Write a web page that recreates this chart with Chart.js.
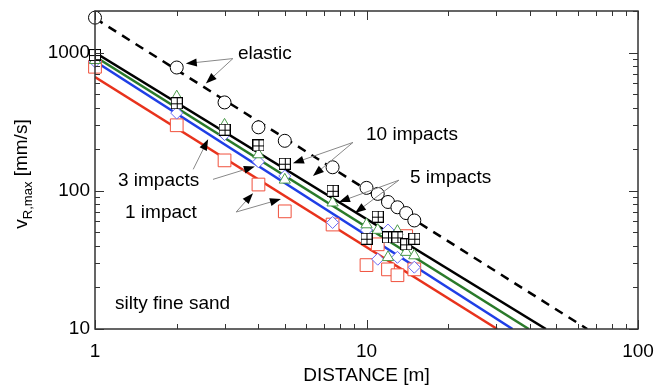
<!DOCTYPE html>
<html><head><meta charset="utf-8">
<script src="https://cdn.jsdelivr.net/npm/chart.js@4/dist/chart.umd.min.js"></script>
<style>html,body{margin:0;padding:0;background:#fff;}#wrap{width:657px;height:387px;}</style>
</head><body><div id="wrap"><canvas id="c" width="657" height="387"></canvas></div>
<script>
// ---- data ----
const distances = [1, 2, 3, 4, 5, 7.5, 10, 11, 12, 13, 14, 15];
const elasticV   = [1790, 780, 436, 288, 230, 148, 105, 95, 83, 76, 69, 61];
const impacts10V = [960, 430, 277, 213, 157, 100, 45, 65, 46, 46, 41, 45];
const impacts5V  = [880, 480, 300, 183, 120, 82, 57, 52, 33, 51, 36, 34];
const distances3 = [1, 2, 3, 4, 5, 7.5, 10, 11, 12, 13, 15];
const impacts3V  = [860, 365, 255, 162, 128, 59, 52, 32, 52, 33, 28];
const impacts1V  = [790, 298, 166, 111, 71, 57, 29, 41, 27, 24.5, 47, 27];

// regression lines (end points)
const fitElasticX = [1, 65];   const fitElasticV = [1770, 10];
const fit10X = [1, 45.8];      const fit10V = [1000, 10];
const fit5X  = [1, 39.6];      const fit5V  = [935, 10];
const fit3X  = [1, 34.5];      const fit3V  = [865, 10];
const fit1X  = [1, 30.3];      const fit1V  = [666, 10];

const xTicks = [1,2,3,4,5,6,7,8,9,10,20,30,40,50,60,70,80,90,100];
const yTicks = [10,20,30,40,50,60,70,80,90,100,200,300,400,500,600,700,800,900,1000,2000];
const xMajor = [1, 10, 100];
const yMajor = [10, 100, 1000];

const labelTexts = ['elastic', '10 impacts', '5 impacts', '3 impacts', '1 impact', 'silty fine sand'];
const labelX = [3.36, 9.96, 14.46, 1.215, 1.29, 1.185];
const labelY = [983, 256, 123.5, 117.5, 69, 15.2];
// arrows: [fromX, fromY, toX, toY]
const arrows = [
  [3.22, 905, 2.16, 833], [3.22, 905, 2.56, 598],
  [8.92, 224, 5.36, 158], [8.92, 224, 6.35, 128],
  [13.17, 119.4, 7.92, 82.9], [13.17, 119.4, 9.07, 69],
  [2.30, 143, 2.61, 236], [2.72, 121, 3.88, 150],
  [3.31, 70.2, 3.82, 96.2], [3.31, 70.2, 4.84, 87.1]
];

const zip = (xs, ys) => xs.map((x, i) => ({x, y: ys[i]}));
const FONT = '"Liberation Sans", Arial, sans-serif';

function crossSquare(size) {
  const c = document.createElement('canvas');
  c.width = size; c.height = size;
  const g = c.getContext('2d');
  g.fillStyle = '#fff'; g.fillRect(0.5, 0.5, size - 1, size - 1);
  g.strokeStyle = '#000'; g.lineWidth = 1;
  g.strokeRect(0.5, 0.5, size - 1, size - 1);
  const m = Math.floor(size / 2) + 0.5;
  g.beginPath(); g.moveTo(m, 0.5); g.lineTo(m, size - 0.5);
  g.moveTo(0.5, m); g.lineTo(size - 0.5, m); g.stroke();
  return c;
}

const lineDs = (xs, ys, color, dash, order) => ({
  data: zip(xs, ys), showLine: true, pointRadius: 0, borderColor: color,
  borderWidth: 2.5, borderDash: dash || [], order: order, fill: false
});
const markDs = (xs, ys, style, r, color, order) => ({
  data: zip(xs, ys), showLine: false, pointStyle: style, pointRadius: r,
  pointBorderColor: color, pointBackgroundColor: '#fff', pointBorderWidth: 1,
  order: order, clip: false
});

const framePlugin = {
  id: 'frame',
  afterDatasetsDraw(chart) {
    const {ctx, chartArea: a, scales: {x, y}} = chart;
    ctx.save();
    ctx.strokeStyle = '#333'; ctx.lineWidth = 1.5;
    ctx.strokeRect(a.left, a.top, a.right - a.left, a.bottom - a.top);
    ctx.lineWidth = 1;
    ctx.beginPath();
    xTicks.forEach(v => {
      const px = Math.round(x.getPixelForValue(v)) + 0.5;
      const L = xMajor.includes(v) ? 9 : 5;
      ctx.moveTo(px, a.bottom); ctx.lineTo(px, a.bottom - L);
      ctx.moveTo(px, a.top); ctx.lineTo(px, a.top + L);
    });
    yTicks.forEach(v => {
      const py = Math.round(y.getPixelForValue(v)) + 0.5;
      const L = yMajor.includes(v) ? 9 : 5;
      ctx.moveTo(a.left, py); ctx.lineTo(a.left + L, py);
      ctx.moveTo(a.right, py); ctx.lineTo(a.right - L, py);
    });
    ctx.stroke();

    // annotations
    ctx.fillStyle = '#000';
    ctx.font = '19px ' + FONT;
    ctx.textAlign = 'left'; ctx.textBaseline = 'middle';
    labelTexts.forEach((t, i) => {
      ctx.fillText(t, x.getPixelForValue(labelX[i]), y.getPixelForValue(labelY[i]));
    });
    arrows.forEach(([fx, fy, tx, ty]) => {
      const x0 = x.getPixelForValue(fx), y0 = y.getPixelForValue(fy);
      const x1 = x.getPixelForValue(tx), y1 = y.getPixelForValue(ty);
      const ang = Math.atan2(y1 - y0, x1 - x0);
      const len = 11, hw = 4;
      ctx.strokeStyle = '#888'; ctx.lineWidth = 1;
      ctx.beginPath(); ctx.moveTo(x0, y0);
      ctx.lineTo(x1 - Math.cos(ang) * len * 0.8, y1 - Math.sin(ang) * len * 0.8); ctx.stroke();
      ctx.fillStyle = '#000';
      ctx.beginPath();
      ctx.moveTo(x1, y1);
      ctx.lineTo(x1 - Math.cos(ang) * len - Math.sin(ang) * hw, y1 - Math.sin(ang) * len + Math.cos(ang) * hw);
      ctx.lineTo(x1 - Math.cos(ang) * len + Math.sin(ang) * hw, y1 - Math.sin(ang) * len - Math.cos(ang) * hw);
      ctx.closePath(); ctx.fill();
    });

    // y axis title with subscript
    const cy = (a.top + a.bottom) / 2 + 4;
    ctx.save();
    ctx.translate(27, cy);
    ctx.rotate(-Math.PI / 2);
    ctx.textBaseline = 'alphabetic'; ctx.textAlign = 'left';
    const big = '19px ' + FONT, small = '13px ' + FONT;
    ctx.font = big; const w1 = ctx.measureText('v').width;
    ctx.font = small; const w2 = ctx.measureText('R,max').width;
    ctx.font = big; const w3 = ctx.measureText(' [mm/s]').width;
    let sx = -(w1 + w2 + w3) / 2;
    ctx.font = big; ctx.fillText('v', sx, 0); sx += w1;
    ctx.font = small; ctx.fillText('R,max', sx, 5); sx += w2;
    ctx.font = big; ctx.fillText(' [mm/s]', sx, 0);
    ctx.restore();
    ctx.restore();
  }
};

new Chart(document.getElementById('c'), {
  type: 'scatter',
  data: {
    datasets: [
      lineDs(fitElasticX, fitElasticV, '#000', [9, 7], 20),
      lineDs(fit10X, fit10V, '#000', null, 21),
      lineDs(fit5X, fit5V, '#2a7a2a', null, 22),
      lineDs(fit3X, fit3V, '#1f3fe6', null, 23),
      lineDs(fit1X, fit1V, '#e8321c', null, 24),
      markDs(distances, impacts1V, 'rect', 9, '#f0503c', 6),
      markDs(distances3, impacts3V, 'rectRot', 6, '#6a6af5', 5),
      markDs(distances, impacts5V, 'triangle', 6.5, '#4a9a4a', 4),
      markDs(distances, impacts10V, crossSquare(12), 6, '#000', 2),
      markDs(distances, elasticV, 'circle', 6.5, '#000', 1)
    ]
  },
  options: {
    responsive: false, animation: false, devicePixelRatio: 1,
    layout: {padding: {top: 11, right: 19, left: 0, bottom: 0}},
    plugins: {legend: {display: false}, tooltip: {enabled: false}},
    scales: {
      x: {
        type: 'logarithmic', min: 1, max: 100, position: 'bottom',
        grid: {display: false, drawTicks: false}, border: {display: false},
        afterBuildTicks: s => { s.ticks = xTicks.map(v => ({value: v})); },
        afterFit: s => { s.height = 58; s.paddingLeft = 0; s.paddingRight = 0; },
        ticks: {color: '#000', font: {size: 19, family: FONT}, padding: 11, maxRotation: 0, autoSkip: false,
          callback: v => xMajor.includes(v) ? String(v) : ''},
        title: {display: true, text: 'DISTANCE [m]', color: '#000', font: {size: 19, family: FONT}, padding: {top: 0, bottom: 0}}
      },
      y: {
        type: 'logarithmic', min: 10, max: 2000,
        grid: {display: false, drawTicks: false}, border: {display: false},
        afterBuildTicks: s => { s.ticks = yTicks.map(v => ({value: v})); },
        afterFit: s => { s.width = 95; s.paddingTop = 0; s.paddingBottom = 0; },
        ticks: {color: '#000', font: {size: 19, family: FONT}, padding: 5, autoSkip: false,
          callback: v => yMajor.includes(v) ? String(v) : ''}
      }
    }
  },
  plugins: [framePlugin]
});
</script></body></html>
